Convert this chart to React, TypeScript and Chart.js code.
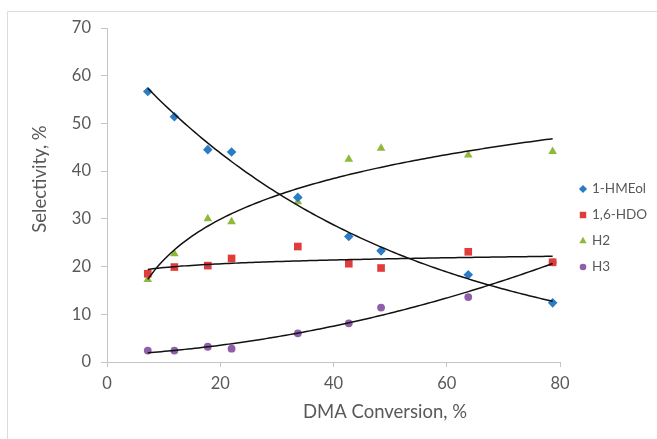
import React, { useEffect, useRef } from 'react';
import { Chart, registerables } from 'chart.js';

Chart.register(...registerables);

// ---- data ----
const conversion = [7.2, 11.9, 17.8, 22.0, 33.7, 42.7, 48.4, 63.8, 78.7];
const hmeol = [56.7, 51.4, 44.5, 44.0, 34.5, 26.3, 23.3, 18.3, 12.4];
const hdo = [18.5, 19.9, 20.2, 21.7, 24.2, 20.6, 19.7, 23.1, 20.9];
const h2 = [17.3, 22.7, 30.0, 29.4, 33.6, 42.5, 44.8, 43.4, 44.1];
const h3 = [2.4, 2.4, 3.2, 2.8, 6.0, 8.1, 11.4, 13.6, 20.9];
const seriesNames = ['1-HMEol', '1,6-HDO', 'H2', 'H3'];
const xTickValues = [0, 20, 40, 60, 80];
const yTickValues = [0, 10, 20, 30, 40, 50, 60, 70];
const xTitle = 'DMA Conversion, %';
const yTitle = 'Selectivity, %';

// ---- least-squares trendlines (as Excel does) ----
function linReg(xs: number[], ys: number[]) {
  const n = xs.length;
  const mx = xs.reduce((a, b) => a + b, 0) / n;
  const my = ys.reduce((a, b) => a + b, 0) / n;
  let sxy = 0, sxx = 0;
  for (let i = 0; i < n; i++) {
    sxy += (xs[i] - mx) * (ys[i] - my);
    sxx += (xs[i] - mx) * (xs[i] - mx);
  }
  const slope = sxy / sxx;
  return { slope, intercept: my - slope * mx };
}
function expFit(xs: number[], ys: number[]) {
  const r = linReg(xs, ys.map(Math.log));
  return (x: number) => Math.exp(r.intercept + r.slope * x);
}
function logFit(xs: number[], ys: number[]) {
  const r = linReg(xs.map(Math.log), ys);
  return (x: number) => r.intercept + r.slope * Math.log(x);
}
function poly2Fit(xs: number[], ys: number[]) {
  const S = [0, 0, 0, 0, 0];
  const T = [0, 0, 0];
  for (let i = 0; i < xs.length; i++) {
    for (let k = 0; k < 5; k++) S[k] += Math.pow(xs[i], k);
    for (let k = 0; k < 3; k++) T[k] += ys[i] * Math.pow(xs[i], k);
  }
  const M = [
    [S[0], S[1], S[2], T[0]],
    [S[1], S[2], S[3], T[1]],
    [S[2], S[3], S[4], T[2]],
  ];
  for (let c = 0; c < 3; c++) {
    for (let r = c + 1; r < 3; r++) {
      const f = M[r][c] / M[c][c];
      for (let k = c; k < 4; k++) M[r][k] -= f * M[c][k];
    }
  }
  const coef = [0, 0, 0];
  for (let r = 2; r >= 0; r--) {
    let s = M[r][3];
    for (let k = r + 1; k < 3; k++) s -= M[r][k] * coef[k];
    coef[r] = s / M[r][r];
  }
  return (x: number) => coef[0] + coef[1] * x + coef[2] * x * x;
}
function sampleFit(f: (x: number) => number) {
  const lo = Math.min(...conversion);
  const hi = Math.max(...conversion);
  const pts: { x: number; y: number }[] = [];
  const steps = 120;
  for (let i = 0; i <= steps; i++) {
    const x = lo + ((hi - lo) * i) / steps;
    pts.push({ x, y: f(x) });
  }
  return pts;
}
const toPts = (ys: number[]) => conversion.map((x, i) => ({ x, y: ys[i] }));

const COLORS = ['#2b7cc6', '#e03c3c', '#8fb93a', '#8f5fa9'];
const STYLES = ['rectRot', 'rect', 'triangle', 'circle'];
const RADII = [4.8, 5.4, 5.0, 3.9];
const TEXT = '#595959';
const AXIS = '#c4c4c4';
const FONT = 'Lato, "Open Sans", sans-serif';

function drawMarker(ctx: CanvasRenderingContext2D, style: string, x: number, y: number, r: number) {
  ctx.beginPath();
  if (style === 'rectRot') {
    ctx.moveTo(x, y - r); ctx.lineTo(x + r, y); ctx.lineTo(x, y + r); ctx.lineTo(x - r, y);
    ctx.closePath();
  } else if (style === 'rect') {
    const s = r * Math.SQRT1_2;
    ctx.rect(x - s, y - s, 2 * s, 2 * s);
  } else if (style === 'triangle') {
    ctx.moveTo(x, y - r);
    ctx.lineTo(x + r * Math.cos(Math.PI / 6), y + r * 0.5);
    ctx.lineTo(x - r * Math.cos(Math.PI / 6), y + r * 0.5);
    ctx.closePath();
  } else {
    ctx.arc(x, y, r, 0, Math.PI * 2);
  }
  ctx.fill();
}

const decorPlugin = {
  id: 'excelDecor',
  afterDraw(chart: any) {
    const ctx: CanvasRenderingContext2D = chart.ctx;
    ctx.save();
    // chart area frame (Excel)
    ctx.strokeStyle = '#dcdcdc';
    ctx.lineWidth = 1;
    ctx.beginPath();
    ctx.moveTo(7.5, 439);
    ctx.lineTo(7.5, 11.5);
    ctx.lineTo(657, 11.5);
    ctx.stroke();
    // axis titles
    ctx.fillStyle = TEXT;
    ctx.textAlign = 'center';
    ctx.textBaseline = 'middle';
    ctx.font = `18.5px ${FONT}`;
    ctx.fillText(xTitle, 385, 412);
    ctx.save();
    ctx.translate(40, 179);
    ctx.rotate(-Math.PI / 2);
    ctx.fillText(yTitle, 0, 0);
    ctx.restore();
    // legend
    ctx.font = `13.5px ${FONT}`;
    ctx.textAlign = 'left';
    seriesNames.forEach((name, i) => {
      const cy = 189 + i * 26;
      ctx.fillStyle = COLORS[i];
      drawMarker(ctx, STYLES[i], 583, cy, RADII[i] * 0.85);
      ctx.fillStyle = TEXT;
      ctx.fillText(name, 592, cy);
    });
    ctx.restore();
  },
};

export default function App() {
  const ref = useRef<HTMLCanvasElement | null>(null);
  useEffect(() => {
    if (!ref.current) return;
    const seriesData = [hmeol, hdo, h2, h3];
    const fits = [expFit(conversion, hmeol), logFit(conversion, hdo), logFit(conversion, h2), poly2Fit(conversion, h3)];
    const scatterSets = seriesData.map((ys, i) => ({
      label: seriesNames[i],
      data: toPts(ys),
      pointStyle: STYLES[i] as any,
      pointRadius: RADII[i],
      pointBackgroundColor: COLORS[i],
      pointBorderColor: COLORS[i],
      pointBorderWidth: 0,
      backgroundColor: COLORS[i],
      borderColor: COLORS[i],
      showLine: false,
      order: 1,
    }));
    const trendSets = fits.map((f, i) => ({
      label: seriesNames[i] + ' trend',
      data: sampleFit(f),
      showLine: true,
      borderColor: '#111111',
      borderWidth: 1.5,
      pointRadius: 0,
      fill: false,
      tension: 0,
      order: 0,
    }));
    const chart = new Chart(ref.current, {
      type: 'scatter',
      data: { datasets: [...scatterSets, ...trendSets] as any },
      options: {
        responsive: false,
        animation: false,
        devicePixelRatio: 1,
        layout: { padding: { top: 28, right: 97, bottom: 0, left: 0 } },
        plugins: { legend: { display: false }, tooltip: { enabled: false } },
        scales: {
          x: {
            type: 'linear',
            min: xTickValues[0],
            max: xTickValues[xTickValues.length - 1],
            afterBuildTicks: (s: any) => { s.ticks = xTickValues.map((v) => ({ value: v })); },
            afterFit: (s: any) => { s.height = 77; },
            grid: { drawOnChartArea: false, drawTicks: true, tickLength: 5, color: AXIS },
            border: { color: AXIS, width: 1 },
            ticks: { color: TEXT, font: { family: FONT, size: 16.5 }, padding: 7, maxRotation: 0 },
          },
          y: {
            type: 'linear',
            min: yTickValues[0],
            max: yTickValues[yTickValues.length - 1],
            afterBuildTicks: (s: any) => { s.ticks = yTickValues.map((v) => ({ value: v })); },
            afterFit: (s: any) => { s.width = 107; },
            grid: { drawOnChartArea: false, drawTicks: true, tickLength: 6, color: AXIS },
            border: { color: AXIS, width: 1 },
            ticks: { color: TEXT, font: { family: FONT, size: 16.5 }, padding: 10 },
          },
        },
      },
      plugins: [decorPlugin],
    });
    return () => chart.destroy();
  }, []);
  return (
    <div style={{ position: 'fixed', left: 0, top: 0, width: 657, height: 439, background: '#ffffff' }}>
      <canvas ref={ref} width={657} height={439} style={{ width: 657, height: 439, display: 'block' }} />
    </div>
  );
}
